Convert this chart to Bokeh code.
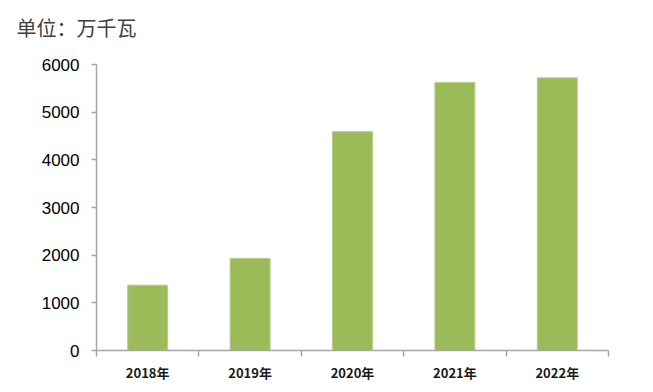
from bokeh.plotting import figure
from bokeh.models import ColumnDataSource, FixedTicker, Range1d, LinearAxis
from bokeh.embed import file_html
from bokeh.resources import INLINE

years = ["2018年", "2019年", "2020年", "2021年", "2022年"]
capacity = [1370, 1930, 4590, 5620, 5720]
y_ticks = [0, 1000, 2000, 3000, 4000, 5000, 6000]
unit_label = "单位：万千瓦"

xpos = [i + 0.5 for i in range(len(years))]
bounds = list(range(len(years) + 1))

W, H = 645, 384
LEFT, RIGHT, TOP, BOTTOM = 96, 37, 64, 31

source = ColumnDataSource(dict(x=xpos, top=capacity, year=years))

p = figure(width=W, height=H, output_backend="svg", toolbar_location=None,
           x_range=Range1d(0, len(years)), y_range=Range1d(0, 6000),
           min_border_left=LEFT, min_border_right=RIGHT, min_border_top=TOP, min_border_bottom=BOTTOM)

p.vbar(x="x", top="top", width=0.39, source=source,
       fill_color="#9BBB59", line_color="#B4CE85", line_width=1)

p.outline_line_color = None
p.xgrid.grid_line_color = None
p.ygrid.grid_line_color = None
p.background_fill_color = "white"
p.border_fill_color = "white"

# x axis: labels at centers, ticks at category boundaries (minor ticks)
xa = p.xaxis[0]
xa.ticker = FixedTicker(ticks=xpos, minor_ticks=bounds)
xa.major_label_overrides = {x: y for x, y in zip(xpos, years)}
xa.major_tick_line_color = None
xa.minor_tick_line_color = "#A6A6A6"
xa.minor_tick_line_width = 1.5
xa.minor_tick_in = 0
xa.minor_tick_out = 6
xa.axis_line_color = "#A6A6A6"
xa.axis_line_width = 1.5
xa.major_label_standoff = 6
xa.major_label_text_font = "Noto Sans CJK SC"
xa.major_label_text_font_size = "13px"
xa.major_label_text_font_style = "bold"
xa.major_label_text_color = "#1a1a1a"

ya = p.yaxis[0]
ya.ticker = FixedTicker(ticks=y_ticks)
ya.minor_tick_line_color = None
ya.major_tick_line_color = "#A6A6A6"
ya.major_tick_line_width = 1.5
ya.major_tick_in = 0
ya.major_tick_out = 5
ya.axis_line_color = "#A6A6A6"
ya.axis_line_width = 1.5
ya.major_label_standoff = 12
ya.major_label_text_font = "Liberation Sans"
ya.major_label_text_font_size = "17px"
ya.major_label_text_color = "#000000"

# unit caption: the single label of an invisible top axis, centred on the
# y axis; two trailing ideographic spaces push the visible text to the left
cap_pos = 0
top_axis = LinearAxis(ticker=FixedTicker(ticks=[cap_pos], minor_ticks=[]),
                      major_label_overrides={cap_pos: unit_label + "\u3000\u3000"})
top_axis.axis_line_color = None
top_axis.major_tick_line_color = None
top_axis.minor_tick_line_color = None
top_axis.major_label_standoff = 17
top_axis.major_label_text_font = "Noto Sans CJK SC"
top_axis.major_label_text_font_size = "20px"
top_axis.major_label_text_color = "#404040"
p.add_layout(top_axis, "above")

open("out.html", "w").write(file_html(p, INLINE))
